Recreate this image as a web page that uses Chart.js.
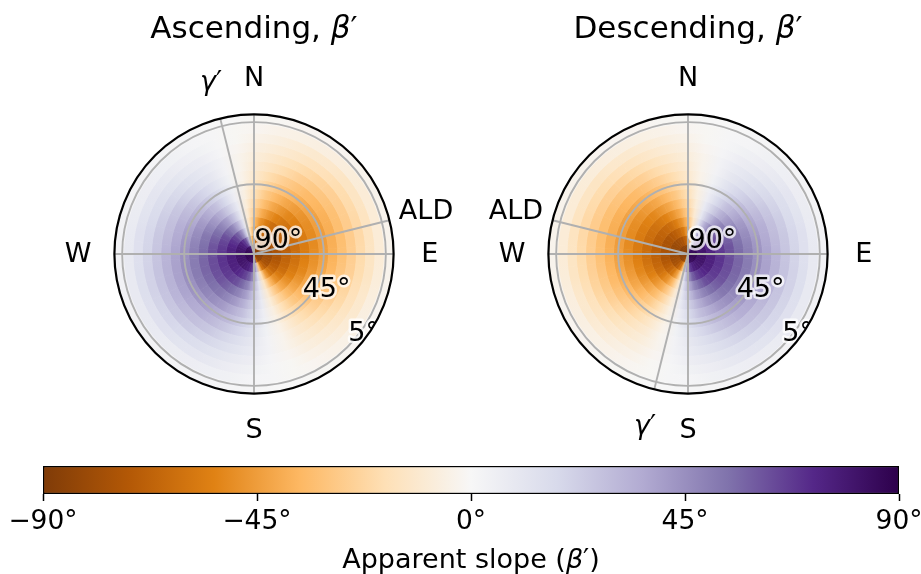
<!DOCTYPE html>
<html>
<head>
<meta charset="utf-8">
<script src="https://cdn.jsdelivr.net/npm/chart.js@4.4.1/dist/chart.umd.min.js"></script>
<style>
  html, body { margin: 0; padding: 0; background: #fff; }
  body { width: 921px; height: 574px; position: relative; overflow: hidden; }
  .box { position: absolute; }
</style>
</head>
<body>
<div class="box" style="left:0;top:0;width:460px;height:460px"><canvas id="asc"></canvas></div>
<div class="box" style="left:458px;top:0;width:460px;height:460px"><canvas id="desc"></canvas></div>
<div class="box" style="left:0;top:440px;width:921px;height:134px"><canvas id="cbar"></canvas></div>
<script>
// look direction of each pass (compass degrees, clockwise from N)
const aldAscending = 76;
const aldDescending = 284;

// true slope of each ring, centre -> edge (centre of plot = 90 deg, rim = 0 deg)
const trueSlope = [87, 81, 75, 69, 63, 57, 51, 45, 39, 33, 27, 21, 15, 9, 3];
// aspect of each sector, measured clockwise from the look direction
const sectorFromALD = [5, 15, 25, 35, 45, 55, 65, 75, 85, 95, 105, 115, 125, 135, 145, 155, 165, 175,
                       185, 195, 205, 215, 225, 235, 245, 255, 265, 275, 285, 295, 305, 315, 325, 335, 345, 355];

// apparent slope, one array per ring (degrees)
const slope87 = [-87,-87,-87,-86,-86,-85,-83,-79,-59, 59,79,83,85,86,86,87,87,87, 87,87,87,86,86,85,83,79,59, -59,-79,-83,-85,-86,-86,-87,-87,-87];
const slope81 = [-81,-81,-80,-79,-77,-75,-69,-59,-29, 29,59,69,75,77,79,80,81,81, 81,81,80,79,77,75,69,59,29, -29,-59,-69,-75,-77,-79,-80,-81,-81];
const slope75 = [-75,-75,-74,-72,-69,-65,-58,-44,-18, 18,44,58,65,69,72,74,75,75, 75,75,74,72,69,65,58,44,18, -18,-44,-58,-65,-69,-72,-74,-75,-75];
const slope69 = [-69,-68,-67,-65,-62,-56,-48,-34,-13, 13,34,48,56,62,65,67,68,69, 69,68,67,65,62,56,48,34,13, -13,-34,-48,-56,-62,-65,-67,-68,-69];
const slope63 = [-63,-62,-61,-58,-54,-48,-40,-27,-10, 10,27,40,48,54,58,61,62,63, 63,62,61,58,54,48,40,27,10, -10,-27,-40,-48,-54,-58,-61,-62,-63];
const slope57 = [-57,-56,-54,-52,-47,-41,-33,-22,-8, 8,22,33,41,47,52,54,56,57, 57,56,54,52,47,41,33,22,8, -8,-22,-33,-41,-47,-52,-54,-56,-57];
const slope51 = [-51,-50,-48,-45,-41,-35,-28,-18,-6, 6,18,28,35,41,45,48,50,51, 51,50,48,45,41,35,28,18,6, -6,-18,-28,-35,-41,-45,-48,-50,-51];
const slope45 = [-45,-44,-42,-39,-35,-30,-23,-15,-5, 5,15,23,30,35,39,42,44,45, 45,44,42,39,35,30,23,15,5, -5,-15,-23,-30,-35,-39,-42,-44,-45];
const slope39 = [-39,-38,-36,-34,-30,-25,-19,-12,-4, 4,12,19,25,30,34,36,38,39, 39,38,36,34,30,25,19,12,4, -4,-12,-19,-25,-30,-34,-36,-38,-39];
const slope33 = [-33,-32,-30,-28,-25,-20,-15,-10,-3, 3,10,15,20,25,28,30,32,33, 33,32,30,28,25,20,15,10,3, -3,-10,-15,-20,-25,-28,-30,-32,-33];
const slope27 = [-27,-26,-25,-23,-20,-16,-12,-8,-3, 3,8,12,16,20,23,25,26,27, 27,26,25,23,20,16,12,8,3, -3,-8,-12,-16,-20,-23,-25,-26,-27];
const slope21 = [-21,-20,-19,-17,-15,-12,-9,-6,-2, 2,6,9,12,15,17,19,20,21, 21,20,19,17,15,12,9,6,2, -2,-6,-9,-12,-15,-17,-19,-20,-21];
const slope15 = [-15,-14,-14,-12,-11,-9,-6,-4,-1, 1,4,6,9,11,12,14,14,15, 15,14,14,12,11,9,6,4,1, -1,-4,-6,-9,-11,-12,-14,-14,-15];
const slope9  = [-9,-9,-8,-7,-6,-5,-4,-2,-1, 1,2,4,5,6,7,8,9,9, 9,9,8,7,6,5,4,2,1, -1,-2,-4,-5,-6,-7,-8,-9,-9];
const slope3  = [-3,-3,-3,-2,-2,-2,-1,-1,0, 0,1,1,2,2,2,3,3,3, 3,3,3,2,2,2,1,1,0, 0,-1,-1,-2,-2,-2,-3,-3,-3];
const apparentSlope = [slope87, slope81, slope75, slope69, slope63, slope57, slope51, slope45,
                       slope39, slope33, slope27, slope21, slope15, slope9, slope3];

// radial grid + labels, colourbar ticks
const radialTicks = [90, 45, 5];
const colourbarTicks = [-90, -45, 0, 45, 90];

// PuOr colour map, low -> high
const puor = ['#7f3b08', '#b35806', '#e08214', '#fdb863', '#fee0b6', '#f7f7f7',
              '#d8daeb', '#b2abd2', '#8073ac', '#542788', '#2d004b'];

function hexToRgb(h) {
    return [parseInt(h.slice(1, 3), 16), parseInt(h.slice(3, 5), 16), parseInt(h.slice(5, 7), 16)];
}

function colourFor(v) {
    let t = (v + 90) / 180 * (puor.length - 1);
    t = Math.max(0, Math.min(puor.length - 1, t));
    const i = Math.min(puor.length - 2, Math.floor(t));
    const f = t - i;
    const a = hexToRgb(puor[i]), b = hexToRgb(puor[i + 1]);
    const c = a.map((x, k) => Math.round(x + (b[k] - x) * f));
    return `rgb(${c[0]},${c[1]},${c[2]})`;
}

const FONT = '"DejaVu Sans", sans-serif';

// draws a run of [text, italic] pieces; align 'center' or 'left'
function drawParts(ctx, parts, x, y, size, align) {
    let w = 0;
    parts.forEach(p => {
        ctx.font = (p[1] ? 'italic ' : '') + size + 'px ' + FONT;
        w += ctx.measureText(p[0]).width;
    });
    let cur = align === 'center' ? x - w / 2 : x;
    ctx.textAlign = 'left';
    parts.forEach(p => {
        ctx.font = (p[1] ? 'italic ' : '') + size + 'px ' + FONT;
        ctx.fillText(p[0], cur, y);
        cur += ctx.measureText(p[0]).width;
    });
}

// shade each ring smoothly between sector centres (conic fill around the plot centre)
function ringFill(c) {
    const chart = c.chart;
    const area = chart.chartArea;
    if (!area) return '#fff';
    const row = apparentSlope[apparentSlope.length - 1 - c.datasetIndex];
    const ald = chart.options.rotation;
    const cx = (area.left + area.right) / 2, cy = (area.top + area.bottom) / 2;
    const g = chart.ctx.createConicGradient((ald - 90) * Math.PI / 180, cx, cy);
    const edge = colourFor((row[0] + row[row.length - 1]) / 2);
    g.addColorStop(0, edge);
    sectorFromALD.forEach((a, k) => g.addColorStop(a / 360, colourFor(row[k])));
    g.addColorStop(1, edge);
    return g;
}

// grid, direction labels and titles on top of the doughnut rings
const polarDeco = {
    id: 'polarDeco',
    afterDatasetsDraw(chart, args, opts) {
        const arc = chart.getDatasetMeta(0).data[0];
        const cx = arc.x, cy = arc.y, R = arc.outerRadius;
        const ctx = chart.ctx;
        const pt = (az, r) => [cx + r * Math.sin(az * Math.PI / 180), cy - r * Math.cos(az * Math.PI / 180)];
        const rOf = s => R * (90 - s) / 90;

        ctx.save();
        ctx.strokeStyle = '#b0b0b0';
        ctx.lineWidth = 1.9;
        // circles for 45 and 5 degrees
        radialTicks.filter(s => s < 90).forEach(s => {
            ctx.beginPath();
            ctx.arc(cx, cy, rOf(s), 0, Math.PI * 2);
            ctx.stroke();
        });
        // N/E/S/W spokes, look direction and its normal
        [0, 90, 180, 270, opts.ald, opts.ald - 90].forEach(az => {
            const p = pt(az, R);
            ctx.beginPath();
            ctx.moveTo(cx, cy);
            ctx.lineTo(p[0], p[1]);
            ctx.stroke();
        });

        // radial labels, clipped to the plot circle
        ctx.save();
        ctx.beginPath();
        ctx.arc(cx, cy, R, 0, Math.PI * 2);
        ctx.clip();
        const offs = { 90: [0.175, -0.10], 45: [0.52, 0.25], 5: [0.785, 0.565] };
        ctx.font = '27px ' + FONT;
        ctx.textAlign = 'center';
        ctx.textBaseline = 'middle';
        ctx.lineJoin = 'round';
        radialTicks.forEach(s => {
            const x = cx + offs[s][0] * R, y = cy + offs[s][1] * R;
            ctx.strokeStyle = 'rgba(255,255,255,0.75)';
            ctx.lineWidth = 5;
            ctx.strokeText(s + '°', x, y + 1);
            ctx.fillStyle = '#000';
            ctx.fillText(s + '°', x, y + 1);
        });
        ctx.restore();

        // outer rim
        ctx.strokeStyle = '#000';
        ctx.lineWidth = 2.2;
        ctx.beginPath();
        ctx.arc(cx, cy, R, 0, Math.PI * 2);
        ctx.stroke();

        // compass labels
        ctx.fillStyle = '#000';
        ctx.font = '27px ' + FONT;
        ctx.textAlign = 'center';
        ctx.textBaseline = 'middle';
        [['N', 0], ['E', 90], ['S', 180], ['W', 270]].forEach(d => {
            const p = pt(d[1], R * 1.26);
            ctx.fillText(d[0], p[0], p[1] + 1);
        });
        const pa = pt(opts.ald, R * 1.27);
        ctx.fillText('ALD', pa[0], pa[1] + 1);
        const pg = pt(opts.ald - 90, R * 1.27);
        drawParts(ctx, [['γ', true], ['′', false]], pg[0], pg[1] + 1, 27, 'center');

        // title
        ctx.textBaseline = 'alphabetic';
        drawParts(ctx, [[opts.title + ', ', false], ['β', true], ['′', false]], cx, cy - 216.5, 31, 'center');
        ctx.restore();
    }
};

function ringDatasets() {
    // doughnut datasets go outside -> in
    return apparentSlope.slice().reverse().map(() => ({
        data: sectorFromALD.map(() => 10),
        backgroundColor: ringFill,
        borderColor: ringFill,
        borderWidth: 0.8,
        borderAlign: 'center',
        hoverOffset: 0,
        offset: 0
    }));
}

function polarConfig(ald, title, padLeft, padRight) {
    return {
        type: 'doughnut',
        data: { labels: sectorFromALD.map(String), datasets: ringDatasets() },
        options: {
            responsive: true,
            maintainAspectRatio: false,
            animation: false,
            events: [],
            rotation: ald,
            circumference: 360,
            cutout: 0,
            layout: { padding: { left: padLeft, right: padRight, top: 114, bottom: 66 } },
            plugins: {
                legend: { display: false },
                tooltip: { enabled: false },
                polarDeco: { ald: ald, title: title }
            }
        },
        plugins: [polarDeco]
    };
}

new Chart(document.getElementById('asc'), polarConfig(aldAscending, 'Ascending', 114, 66));
new Chart(document.getElementById('desc'), polarConfig(aldDescending, 'Descending', 90, 90));

// colourbar label
const cbarLabel = {
    id: 'cbarLabel',
    afterDraw(chart) {
        const ctx = chart.ctx;
        const a = chart.chartArea;
        ctx.save();
        ctx.fillStyle = '#000';
        ctx.textBaseline = 'alphabetic';
        drawParts(ctx, [['Apparent slope (', false], ['β', true], ['′)', false]], (a.left + a.right) / 2, 128, 27, 'center');
        ctx.restore();
    }
};

new Chart(document.getElementById('cbar'), {
    type: 'bar',
    data: {
        labels: [''],
        datasets: [{
            data: [[colourbarTicks[0], colourbarTicks[colourbarTicks.length - 1]]],
            backgroundColor: function(c) {
                const chart = c.chart;
                if (!chart.chartArea) return '#fff';
                const xs = chart.scales.x;
                const x0 = xs.getPixelForValue(-90), x1 = xs.getPixelForValue(90);
                const g = chart.ctx.createLinearGradient(x0, 0, x1, 0);
                puor.forEach((col, i) => g.addColorStop(i / (puor.length - 1), col));
                return g;
            },
            borderColor: '#000',
            borderWidth: 1.5,
            borderSkipped: false,
            barPercentage: 1,
            categoryPercentage: 1
        }]
    },
    options: {
        indexAxis: 'y',
        responsive: true,
        maintainAspectRatio: false,
        animation: false,
        events: [],
        layout: { padding: { left: 43, right: 22, top: 26, bottom: 0 } },
        scales: {
            x: {
                type: 'linear',
                min: -90,
                max: 90,
                afterBuildTicks: s => { s.ticks = colourbarTicks.map(v => ({ value: v })); },
                ticks: {
                    callback: v => (v < 0 ? '−' : '') + Math.abs(v) + '°',
                    font: { family: 'DejaVu Sans', size: 26.5 },
                    color: '#000',
                    padding: 5,
                    maxRotation: 0,
                    autoSkip: false
                },
                grid: { drawOnChartArea: false, drawTicks: true, tickLength: 7, tickColor: '#000', tickWidth: 1.5 },
                border: { display: false },
                afterFit: s => { s.height = 80; s.paddingLeft = 0; s.paddingRight = 0; }
            },
            y: { display: false }
        },
        plugins: { legend: { display: false }, tooltip: { enabled: false } }
    },
    plugins: [cbarLabel]
});
</script>
</body>
</html>
